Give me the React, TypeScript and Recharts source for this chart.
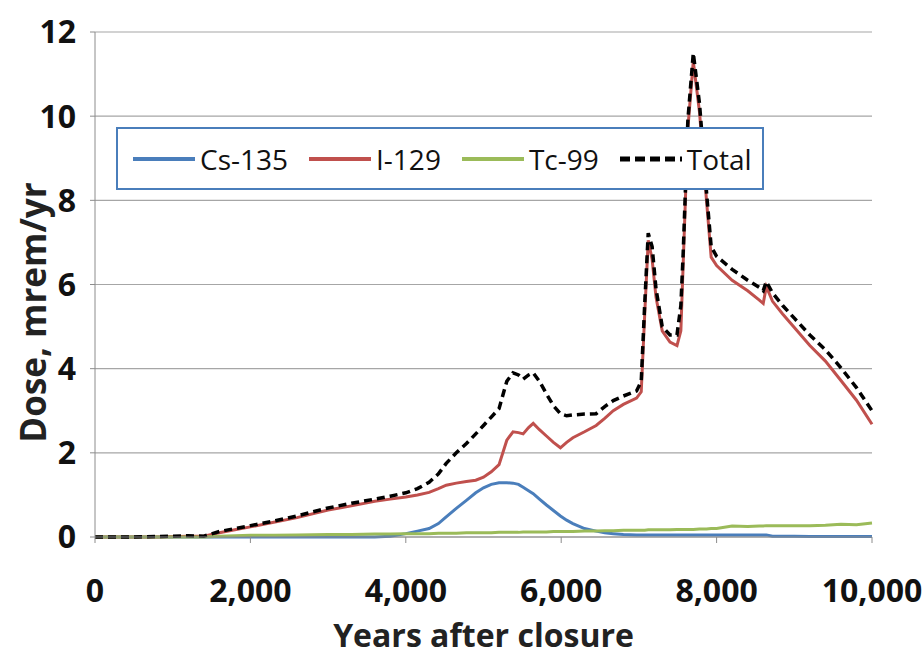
import React from "react";
import { LineChart, Line, XAxis, YAxis, CartesianGrid, Legend, Label } from "recharts";

// years after closure (shared x grid for all series)
const years = [
  0, 400, 800, 1200, 1400, 1600, 1800, 2000, 2300, 2600, 3000, 3300, 3600, 3800, 4000, 4150, 4300, 4420,
  4520, 4650, 4780, 4900, 5000, 5100, 5200, 5300, 5380, 5450, 5510, 5580, 5640, 5720, 5810, 5900, 5990,
  6070, 6150, 6300, 6450, 6560, 6670, 6800, 6970, 7030, 7075, 7120, 7170, 7220, 7300, 7400, 7490, 7540,
  7570, 7630, 7700, 7780, 7870, 7930, 8000, 8200, 8400, 8550, 8600, 8640, 8720, 8850, 9000, 9200, 9400,
  9600, 9800, 10000,
];

const cs135 = [
  0, 0, 0, 0, 0, 0, 0, 0, 0, 0, 0, 0, 0, 0.02, 0.08, 0.14, 0.2, 0.32, 0.48, 0.68, 0.87, 1.05, 1.17, 1.25,
  1.29, 1.29, 1.28, 1.25, 1.18, 1.1, 1.03, 0.9, 0.76, 0.63, 0.5, 0.4, 0.32, 0.2, 0.14, 0.1, 0.08, 0.06,
  0.05, 0.05, 0.05, 0.05, 0.05, 0.05, 0.05, 0.05, 0.05, 0.05, 0.05, 0.05, 0.05, 0.05, 0.05, 0.05, 0.05,
  0.05, 0.05, 0.05, 0.05, 0.05, 0.02, 0.02, 0.02, 0.01, 0.01, 0.01, 0.01, 0.01,
];

const i129 = [
  0, 0, 0, 0.02, 0.02, 0.1, 0.17, 0.24, 0.35, 0.46, 0.64, 0.74, 0.85, 0.9, 0.95, 1.0, 1.06, 1.15, 1.23,
  1.28, 1.32, 1.35, 1.42, 1.55, 1.72, 2.3, 2.5, 2.48, 2.45, 2.6, 2.7, 2.55, 2.4, 2.25, 2.12, 2.25, 2.36,
  2.5, 2.65, 2.82, 3.0, 3.15, 3.3, 3.45, 5.3, 7.05, 6.6, 5.7, 4.9, 4.63, 4.55, 4.9, 6.5, 9.7, 11.3, 10.1,
  8.0, 6.65, 6.45, 6.1, 5.85, 5.63, 5.55, 5.95, 5.6, 5.3, 4.98, 4.55, 4.18, 3.72, 3.25, 2.68,
];

const tc99 = [
  0, 0, 0, 0, 0, 0.02, 0.03, 0.04, 0.04, 0.05, 0.06, 0.06, 0.07, 0.07, 0.08, 0.08, 0.08, 0.09, 0.09, 0.09,
  0.1, 0.1, 0.1, 0.1, 0.11, 0.11, 0.11, 0.11, 0.12, 0.12, 0.12, 0.12, 0.12, 0.13, 0.13, 0.13, 0.13, 0.14,
  0.14, 0.15, 0.15, 0.16, 0.16, 0.16, 0.16, 0.17, 0.17, 0.17, 0.17, 0.17, 0.18, 0.18, 0.18, 0.18, 0.18,
  0.19, 0.19, 0.2, 0.2, 0.26, 0.25, 0.26, 0.26, 0.27, 0.27, 0.27, 0.27, 0.27, 0.28, 0.3, 0.29, 0.33,
];

const total = [
  0, 0, 0.01, 0.03, 0.02, 0.13, 0.2, 0.27, 0.38, 0.5, 0.69, 0.8, 0.9, 0.97, 1.05, 1.15, 1.3, 1.5, 1.75,
  2.0, 2.22, 2.45, 2.65, 2.85, 3.05, 3.7, 3.9, 3.85, 3.75, 3.85, 3.9, 3.7, 3.4, 3.12, 2.93, 2.88, 2.9,
  2.92, 2.93, 3.1, 3.24, 3.35, 3.47, 3.7, 5.55, 7.22, 6.9, 5.9, 5.0, 4.8, 4.8, 5.5, 6.75, 9.9, 11.5, 10.3,
  8.2, 6.9, 6.67, 6.36, 6.1, 5.93, 5.85, 6.07, 5.8, 5.5, 5.2, 4.8, 4.45, 4.02, 3.55, 3.0,
];

const xTicks = [0, 2000, 4000, 6000, 8000, 10000];
const yTicks = [0, 2, 4, 6, 8, 10, 12];

const series = [
  { key: "cs", label: "Cs-135", color: "#4a7ebb", dash: undefined as string | undefined },
  { key: "i129", label: "I-129", color: "#c0504d", dash: undefined as string | undefined },
  { key: "tc", label: "Tc-99", color: "#9bbb59", dash: undefined as string | undefined },
  { key: "total", label: "Total", color: "#000000", dash: "8 5" },
];

const data = years.map((year, i) => ({
  year,
  cs: cs135[i],
  i129: i129[i],
  tc: tc99[i],
  total: total[i],
}));

const FONT = "'Open Sans', 'DejaVu Sans', sans-serif";

function LegendBox() {
  return (
    <div
      style={{
        boxSizing: "border-box",
        width: "100%",
        height: "100%",
        border: "2px solid #4a7ebb",
        background: "#fff",
        display: "flex",
        alignItems: "center",
        paddingLeft: 15,
        gap: 21,
        fontFamily: FONT,
        fontSize: 28,
        color: "#111",
      }}
    >
      {series.map((s) => (
        <div key={s.key} style={{ display: "flex", alignItems: "center" }}>
          <svg width={62} height={8} style={{ marginRight: 5 }}>
            <line
              x1={0}
              y1={4}
              x2={62}
              y2={4}
              stroke={s.color}
              strokeWidth={s.dash ? 5 : 4}
              strokeDasharray={s.dash ? "10 5" : undefined}
            />
          </svg>
          <span>{s.label}</span>
        </div>
      ))}
    </div>
  );
}

export default function App() {
  return (
    <div style={{ position: "absolute", left: 0, top: 0, width: 924, height: 655, background: "#fff" }}>
      <LineChart width={924} height={655} data={data} margin={{ top: 32, right: 52, bottom: 0, left: 0 }}>
        <CartesianGrid vertical={false} stroke="#a6a6a6" strokeWidth={1.2} />
        <XAxis
          dataKey="year"
          type="number"
          domain={[0, 10000]}
          ticks={xTicks}
          height={118}
          stroke="#8c8c8c"
          tickSize={6}
          tickMargin={36}
          tickFormatter={(v: number) => v.toLocaleString("en-US")}
          tick={{ fontSize: 32, fontWeight: 700, fill: "#111", fontFamily: FONT }}
        >
          <Label
            value="Years after closure"
            position="insideBottom"
            offset={8}
            style={{ fontSize: 32, fontWeight: 700, fill: "#222", fontFamily: FONT }}
          />
        </XAxis>
        <YAxis
          type="number"
          domain={[0, 12]}
          ticks={yTicks}
          width={95}
          stroke="#8c8c8c"
          tickSize={5}
          tickMargin={14}
          tick={{ fontSize: 32, fontWeight: 700, fill: "#111", fontFamily: FONT }}
        >
          <Label
            content={({ viewBox }: any) => {
              const cx = viewBox.x + 32;
              const cy = viewBox.y + viewBox.height / 2 + 28;
              return (
                <text
                  x={cx}
                  y={cy}
                  transform={`rotate(-90 ${cx} ${cy})`}
                  textAnchor="middle"
                  dominantBaseline="central"
                  style={{ fontSize: 35, fontWeight: 700, fill: "#222", fontFamily: FONT }}
                >
                  Dose, mrem/yr
                </text>
              );
            }}
          />
        </YAxis>
        <Legend
          layout="vertical"
          align="center"
          verticalAlign="middle"
          wrapperStyle={{ left: 116, top: 127, width: 648, height: 63 }}
          content={() => <LegendBox />}
        />
        {series.map((s) => (
          <Line
            key={s.key}
            type="linear"
            dataKey={s.key}
            name={s.label}
            stroke={s.color}
            strokeWidth={s.dash ? 3.5 : 3}
            strokeDasharray={s.dash}
            dot={false}
            activeDot={false}
            isAnimationActive={false}
          />
        ))}
      </LineChart>
    </div>
  );
}
